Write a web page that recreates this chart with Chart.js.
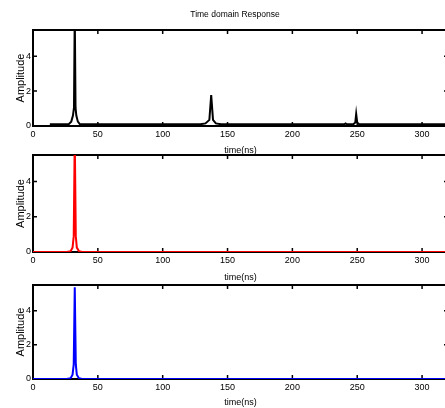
<!DOCTYPE html>
<html>
<head>
<meta charset="utf-8">
<script src="https://cdn.jsdelivr.net/npm/chart.js@4/dist/chart.umd.min.js"></script>
<style>
  html, body { margin: 0; padding: 0; background: #fff; overflow: hidden; width: 445px; height: 408px; }
  .panel { position: absolute; left: 0; }
</style>
</head>
<body>
<canvas id="p1" class="panel" width="452" height="159" style="top:0px"></canvas>
<canvas id="p2" class="panel" width="452" height="156" style="top:130px"></canvas>
<canvas id="p3" class="panel" width="452" height="151" style="top:260px"></canvas>
<script>
// tick labels
const xTicks = [0, 50, 100, 150, 200, 250, 300];
const yTicks = [0, 2, 4];

// panel 1 - black response (three echoes)
const time1 = [13, 27.5, 29.5, 30.8, 31.6, 32.2, 32.8, 33.4, 34.6, 36.2, 129, 133, 136, 137.4, 138.8, 141, 145, 240, 241, 242, 247, 248.5, 249.2, 250, 251.5, 320];
const amp1  = [0.1, 0.1, 0.25, 0.6, 1.05, 6.5, 1.05, 0.6, 0.25, 0.1, 0.1, 0.15, 0.35, 1.77, 0.35, 0.15, 0.1, 0.1, 0.15, 0.1, 0.1, 0.2, 0.69, 0.2, 0.1, 0.1];

// panel 2 - red response
const time2 = [0, 26, 29, 30.5, 31.4, 32.2, 33, 33.8, 35.4, 38, 320];
const amp2  = [0, 0, 0.05, 0.25, 0.9, 6.5, 0.9, 0.25, 0.05, 0, 0];

// panel 3 - blue response
const time3 = [0, 26, 29, 30.5, 31.4, 32.2, 33, 33.8, 35.4, 38, 320];
const amp3  = [0, 0, 0.05, 0.25, 0.85, 5.37, 0.85, 0.25, 0.05, 0, 0];

const FONT = 'Liberation Sans, Arial, sans-serif';

// matlab style box with inward ticks
const boxPlugin = {
    id: 'box',
    beforeDatasetsDraw(chart) {
        const { ctx, chartArea: a, scales: { x, y } } = chart;
        ctx.save();
        ctx.strokeStyle = '#000';
        ctx.lineWidth = 2;
        ctx.strokeRect(a.left, a.top, a.right - a.left, a.bottom - a.top);
        ctx.lineWidth = 1.5;
        ctx.beginPath();
        xTicks.forEach(v => {
            const px = x.getPixelForValue(v);
            ctx.moveTo(px, a.bottom); ctx.lineTo(px, a.bottom - 4);
            ctx.moveTo(px, a.top); ctx.lineTo(px, a.top + 4);
        });
        yTicks.forEach(v => {
            const py = y.getPixelForValue(v);
            ctx.moveTo(a.left, py); ctx.lineTo(a.left + 4, py);
            ctx.moveTo(a.right, py); ctx.lineTo(a.right - 4, py);
        });
        ctx.stroke();
        ctx.restore();
    },
    afterDraw(chart) {
        if (!chart.options.plugins.box || !chart.options.plugins.box.title) return;
        const ctx = chart.ctx;
        ctx.save();
        ctx.fillStyle = '#000';
        ctx.font = '8.5px ' + FONT;
        ctx.textAlign = 'center';
        ctx.textBaseline = 'middle';
        ctx.fillText(chart.options.plugins.box.title, 235, 15);
        ctx.restore();
    }
};

function makePanel(id, times, amps, color, top, axisH, titleText) {
    return new Chart(document.getElementById(id), {
        type: 'line',
        data: {
            datasets: [{
                data: times.map((t, i) => ({ x: t, y: amps[i] })),
                borderColor: color,
                borderWidth: 2,
                pointRadius: 0,
                tension: 0,
                fill: false
            }]
        },
        options: {
            responsive: false,
            animation: false,
            layout: { padding: { top: top, left: 0, right: 4, bottom: 0 } },
            plugins: {
                legend: { display: false },
                tooltip: { enabled: false },
                box: { title: titleText }
            },
            scales: {
                x: {
                    type: 'linear', min: 0, max: 320,
                    afterBuildTicks: s => { s.ticks = xTicks.map(v => ({ value: v })); },
                    afterFit: s => { s.height = axisH; },
                    grid: { display: false, drawTicks: false },
                    border: { display: false },
                    ticks: { color: '#000', font: { family: FONT, size: 9 }, padding: 3, maxRotation: 0, autoSkip: false },
                    title: { display: true, text: 'time(ns)', color: '#000', font: { family: FONT, size: 9 }, padding: { top: 0, bottom: 3 } }
                },
                y: {
                    type: 'linear', min: 0, max: 5.5,
                    afterBuildTicks: s => { s.ticks = yTicks.map(v => ({ value: v })); },
                    afterFit: s => { s.width = 33; },
                    grid: { display: false, drawTicks: false },
                    border: { display: false },
                    ticks: { color: '#000', font: { family: FONT, size: 9 }, padding: 2, autoSkip: false },
                    title: { display: true, text: 'Amplitude', color: '#000', font: { family: FONT, size: 11 }, padding: { top: 14, bottom: 0 } }
                }
            }
        },
        plugins: [boxPlugin]
    });
}

makePanel('p1', time1, amp1, '#000000', 30, 33, 'Time domain Response');
makePanel('p2', time2, amp2, '#ff0000', 25, 34, null);
makePanel('p3', time3, amp3, '#0000ff', 25, 32, null);
</script>
</body>
</html>
